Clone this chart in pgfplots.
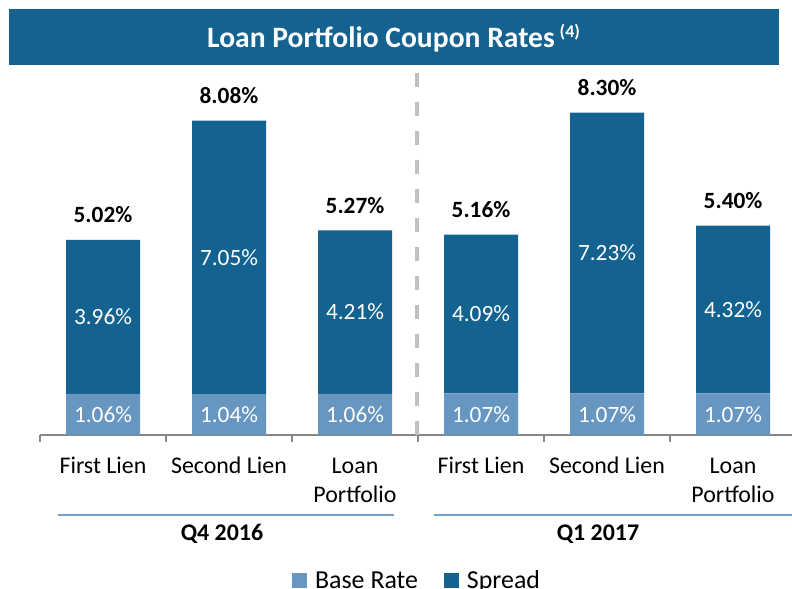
\documentclass[border=0pt]{standalone}
\usepackage{pgfplots}
\pgfplotsset{compat=1.18}
\usepackage{fontspec}
\setmainfont{Carlito}
\definecolor{dblue}{RGB}{19,98,143}
\definecolor{lblue}{RGB}{103,151,193}
\definecolor{gline}{RGB}{110,160,205}
\definecolor{dashg}{RGB}{192,192,192}
\definecolor{axg}{RGB}{134,134,134}
\tikzset{
  inl/.style={text=white, font=\fontsize{23.4}{27}\selectfont, inner sep=0pt},
  tot/.style={text=black, anchor=base, yshift=17bp, font=\bfseries\fontsize{23.4}{27}\selectfont, inner sep=0pt},
  cat/.style={anchor=base, inner sep=0pt, font=\fontsize{24}{28}\selectfont},
  grp/.style={anchor=base, inner sep=0pt, font=\bfseries\fontsize{24}{28}\selectfont},
}
\begin{document}
\begin{tikzpicture}
\useasboundingbox (0,0) rectangle (792bp,-589bp);
% title bar
\fill[dblue] (9bp,-9bp) rectangle (779bp,-65bp);
\node[text=white, anchor=base west, inner sep=0pt, font=\bfseries\fontsize{29.7}{34}\selectfont] at (207bp,-47bp)
  {Loan Portfolio Coupon Rates\hspace{5bp}\raisebox{9.5bp}{\fontsize{18}{21}\selectfont (4)}};
\begin{axis}[
  at={(40bp,-435bp)}, anchor=south west,
  scale only axis, width=752bp, height=365bp,
  xmin=-0.5, xmax=5.468, ymin=0, ymax=9.395,
  axis x line*=bottom, axis y line=none,
  ybar stacked, bar width=74bp,
  xtick={-0.5,0.5,1.5,2.5,3.5,4.5}, xticklabels={,,,,,},
  tick align=outside, major tick length=7bp,
  x axis line style={axg, line width=1.3bp},
  xtick style={axg, line width=1.3bp},
  clip=false,
  legend columns=2,
  legend style={draw=none, fill=none, inner sep=0pt,
    at={(0.335,-0.3986)}, anchor=west,
    font=\fontsize{26}{30}\selectfont,
    /tikz/every odd column/.append style={column sep=6bp},
    /tikz/every even column/.append style={column sep=24bp}},
  legend image code/.code={\draw[#1, draw=none] (0bp,-7.5bp) rectangle (15bp,7.5bp);},
  after end axis/.code={
    \draw[dashg, line width=4bp, dash pattern=on 14bp off 15bp] (axis cs:2.49,9.33) -- (axis cs:2.49,0);
    \node[inl] at (axis cs:0,0.53) {1.06\%};
    \node[inl] at (axis cs:1,0.52) {1.04\%};
    \node[inl] at (axis cs:2,0.53) {1.06\%};
    \node[inl] at (axis cs:3,0.535) {1.07\%};
    \node[inl] at (axis cs:4,0.535) {1.07\%};
    \node[inl] at (axis cs:5,0.535) {1.07\%};
    \node[inl] at (axis cs:0,3.04) {3.96\%};
    \node[inl] at (axis cs:1,4.565) {7.05\%};
    \node[inl] at (axis cs:2,3.165) {4.21\%};
    \node[inl] at (axis cs:3,3.115) {4.09\%};
    \node[inl] at (axis cs:4,4.685) {7.23\%};
    \node[inl] at (axis cs:5,3.23) {4.32\%};
    \node[tot] at (axis cs:0,5.02) {5.02\%};
    \node[tot] at (axis cs:1,8.09) {8.08\%};
    \node[tot] at (axis cs:2,5.27) {5.27\%};
    \node[tot] at (axis cs:3,5.16) {5.16\%};
    \node[tot] at (axis cs:4,8.30) {8.30\%};
    \node[tot] at (axis cs:5,5.39) {5.40\%};
  },
]
\addplot[fill=lblue, draw=none] coordinates {(0,1.06) (1,1.04) (2,1.06) (3,1.07) (4,1.07) (5,1.07)};
\addlegendentry{Base Rate}
\addplot[fill=dblue, draw=none] coordinates {(0,3.96) (1,7.05) (2,4.21) (3,4.09) (4,7.23) (5,4.32)};
\addlegendentry{Spread}
\end{axis}
\node[cat] at (103bp,-473bp) {First Lien};
\node[cat] at (229bp,-473bp) {Second Lien};
\node[cat] at (355bp,-473bp) {Loan};
\node[cat] at (355bp,-502bp) {Portfolio};
\node[cat] at (481bp,-473bp) {First Lien};
\node[cat] at (607bp,-473bp) {Second Lien};
\node[cat] at (733bp,-473bp) {Loan};
\node[cat] at (733bp,-502bp) {Portfolio};
\draw[gline, line width=2bp] (58bp,-515bp) -- (394bp,-515bp);
\draw[gline, line width=2bp] (434bp,-515bp) -- (792bp,-515bp);
\node[grp] at (222bp,-540bp) {Q4 2016};
\node[grp] at (598bp,-540bp) {Q1 2017};
\end{tikzpicture}
\end{document}
